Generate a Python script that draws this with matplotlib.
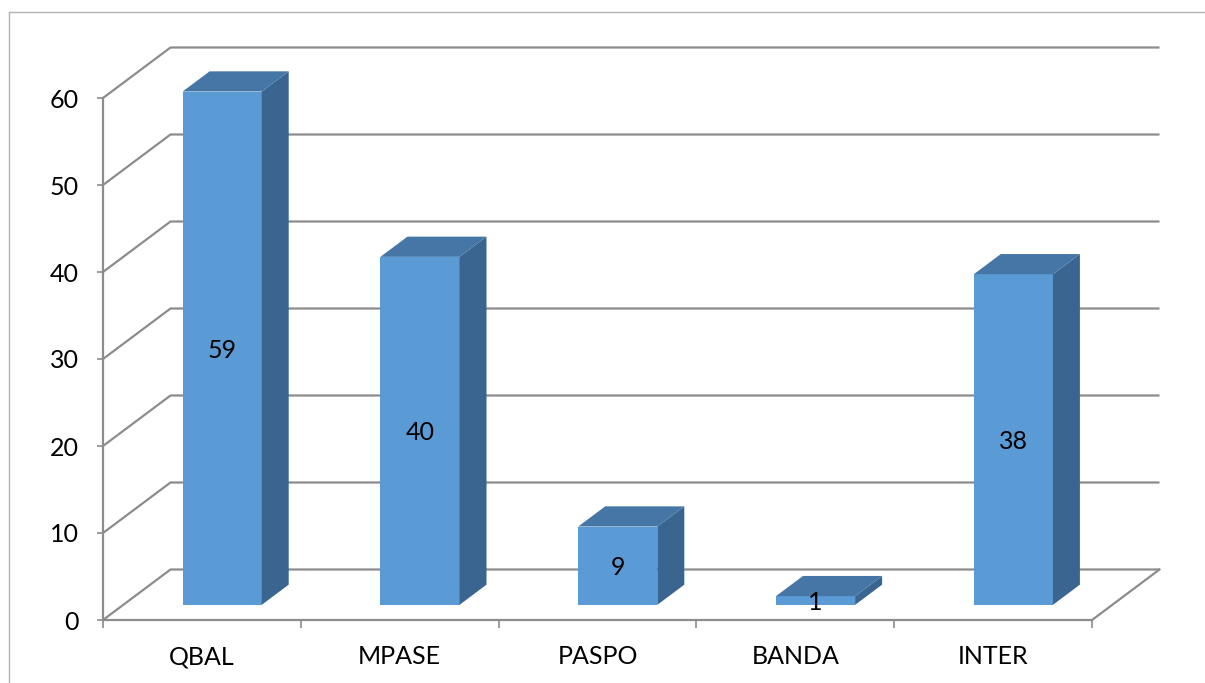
import numpy as np
import matplotlib.pyplot as plt
from matplotlib.patches import Polygon
from matplotlib.lines import Line2D

categories = ['QBAL', 'MPASE', 'PASPO', 'BANDA', 'INTER']
values = [59, 40, 9, 1, 38]
yticks = [0, 10, 20, 30, 40, 50, 60]

plt.rcParams['font.family'] = ['Lato', 'DejaVu Sans']

W, H = 1205, 683
fig = plt.figure(figsize=(W / 100, H / 100), dpi=100)
fig.patch.set_facecolor('white')

# front plane of the 3d box
ax = fig.add_axes([103 / W, 63 / H, 989 / W, 522 / H])
ax.set_xlim(-0.5, len(categories) - 0.5)
ax.set_ylim(0, 60)
ax.set_facecolor('none')

grid = '#8c8c8c'
# wall depth in data units
wdx = 67.5 / (989 / 5)
wdy = 50.5 / (522 / 60)

x0, x1 = -0.5, len(categories) - 0.5
for v in yticks:
    ax.plot([x0, x0 + wdx, x1 + wdx], [v, v + wdy, v + wdy], color=grid, lw=1.6,
            clip_on=False, zorder=1, solid_capstyle='butt')
ax.plot([x1, x1 + wdx], [0, wdy], color=grid, lw=1.6, clip_on=False, zorder=1)

# bars: front face sits 0.3 into the depth, bar depth 0.4
bw = 0.4
fx, fy = 0.3 * wdx, 0.3 * wdy
ddx, ddy = 0.4 * wdx, 0.4 * wdy
xs = np.arange(len(categories)) + fx
front = '#5b9bd5'
top = '#4676a6'
side = '#3a6590'
ax.bar(xs, values, width=bw, bottom=fy, color=front, zorder=3, clip_on=False)
for x, v in zip(xs, values):
    xl, xr = x - bw / 2, x + bw / 2
    b, t = fy, fy + v
    ax.add_patch(Polygon([(xr, b), (xr, t), (xr + ddx, t + ddy), (xr + ddx, b + ddy)],
                         closed=True, facecolor=side, edgecolor='none', zorder=3, clip_on=False))
    ax.add_patch(Polygon([(xl, t), (xr, t), (xr + ddx, t + ddy), (xl + ddx, t + ddy)],
                         closed=True, facecolor=top, edgecolor='none', zorder=3, clip_on=False))
    ax.text(x, b + v / 2, str(v), ha='center', va='center_baseline', fontsize=18,
            color='black', zorder=5)

# axes
for s in ['top', 'right']:
    ax.spines[s].set_visible(False)
for s in ['left', 'bottom']:
    ax.spines[s].set_color(grid)
    ax.spines[s].set_linewidth(1.6)
ax.set_yticks(yticks)
ax.set_yticklabels([str(v) for v in yticks], fontsize=18)
ax.tick_params(axis='y', direction='out', length=4.5, width=1.2, color=grid, pad=13)
ax.set_xticks(np.arange(len(categories)))
ax.set_xticklabels(categories, fontsize=18)
ax.set_xticks(np.arange(len(categories) + 1) - 0.5, minor=True)
ax.tick_params(axis='x', which='major', length=0, pad=18)
ax.tick_params(axis='x', which='minor', direction='out', length=6, width=1.2, color=grid)

# outer chart frame
fc = '#b3b3b3'
fig.add_artist(Line2D([9 / W, 1], [1 - 12 / H, 1 - 12 / H], color=fc, lw=1))
fig.add_artist(Line2D([9 / W, 9 / W], [0, 1 - 12 / H], color=fc, lw=1))

fig.savefig('out.png', dpi=100)
